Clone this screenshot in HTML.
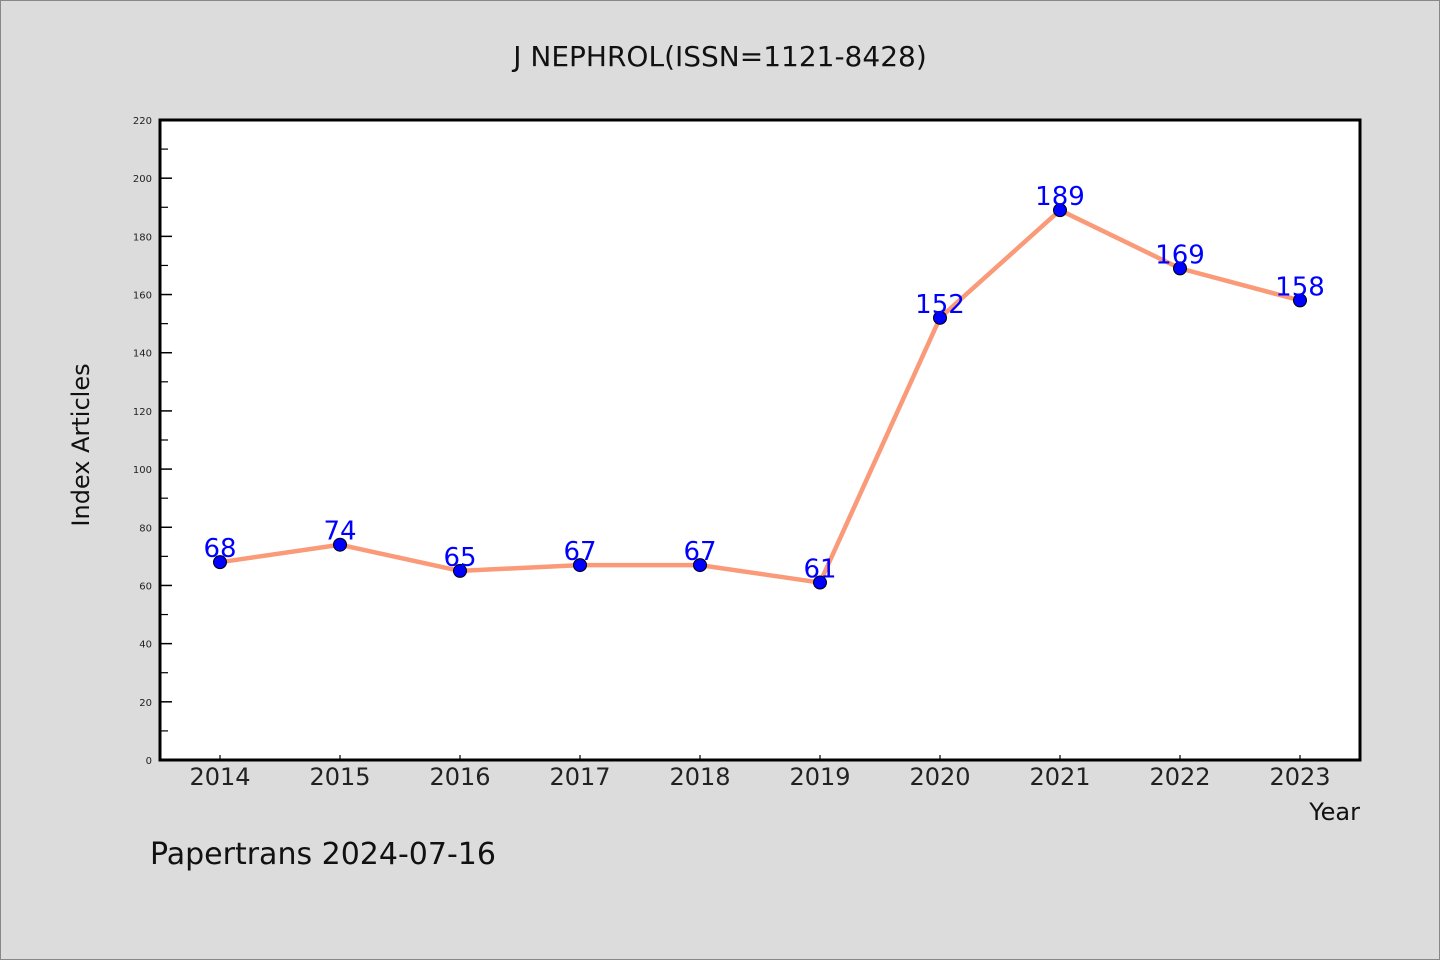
<!DOCTYPE html>
<html><head><meta charset="utf-8"><style>
body{margin:0;background:#dcdcdc;}
svg{display:block;font-family:"WenQuanYi Zen Hei","DejaVu Sans",sans-serif;}
</style></head><body>
<svg id="c" width="1440" height="960">
<rect x="0.5" y="0.5" width="1439" height="959" fill="#dcdcdc" stroke="#888"/>
<text x="720" y="66" font-size="28" text-anchor="middle" fill="#111">J NEPHROL(ISSN=1121-8428)</text>
<rect x="160" y="120" width="1200" height="640" fill="#fff"/>
<g id="yt"></g><g id="xt"></g><g id="marks"></g>
<rect x="160" y="120" width="1200" height="640" fill="none" stroke="#000" stroke-width="3"/>
<text transform="translate(89,445) rotate(-90)" font-size="24" text-anchor="middle" fill="#111">Index Articles</text>
<text x="1360" y="820" font-size="24" text-anchor="end" fill="#111">Year</text>
<text x="150" y="864" font-size="30" fill="#111">Papertrans 2024-07-16</text>
</svg>
<script>
const years=["2014","2015","2016","2017","2018","2019","2020","2021","2022","2023"];
const counts=[68,74,65,67,67,61,152,189,169,158];
const yTicks=[0,20,40,60,80,100,120,140,160,180,200,220];
const NS="http://www.w3.org/2000/svg";
function X(i){return 220+i*120;}
function Y(v){return 760-v*640/220;}
function mk(t,a,p){const e=document.createElementNS(NS,t);for(const k in a)e.setAttribute(k,a[k]);p.appendChild(e);return e;}
const yt=document.getElementById('yt'),xt=document.getElementById('xt'),g=document.getElementById('marks');
yTicks.forEach((v,i)=>{
 const l=mk('line',{x1:160,x2:172,y1:Y(v),y2:Y(v),stroke:'#000','stroke-width':1.5},yt);
 
 
 const t=mk('text',{x:152,y:Y(v)+4,'font-size':10,'text-anchor':'end',fill:'#222'},yt);
 t.textContent=v;
 
 
 if(i<yTicks.length-1){
  const m=mk('line',{x1:160,x2:168,y1:Y(v+10),y2:Y(v+10),stroke:'#000','stroke-width':1.2},yt);
  
  
 }
});
years.forEach((y,i)=>{
 const l=mk('line',{x1:X(i),x2:X(i),y1:760,y2:755,stroke:'#000','stroke-width':1.2},xt);
 
 
 const t=mk('text',{x:X(i),y:785,'font-size':24,'text-anchor':'middle',fill:'#222'},xt);
 t.textContent=y;
 
 
});
const pl=mk('polyline',{points:counts.map((v,i)=>X(i)+','+Y(v)).join(' '),fill:'none',stroke:'#fa9a78','stroke-width':4.5,'stroke-linejoin':'round'},g);


counts.forEach((v,i)=>{
 const c=mk('circle',{cx:X(i),cy:Y(v),r:6.5,fill:'#0000ff',stroke:'#000','stroke-width':1},g);
 
 
});
counts.forEach((v,i)=>{
 const t=mk('text',{x:X(i),y:Y(v)-5,'font-size':26,'text-anchor':'middle',fill:'#0000ff'},g);
 t.textContent=v;
 
 
});
</script>
</body></html>
